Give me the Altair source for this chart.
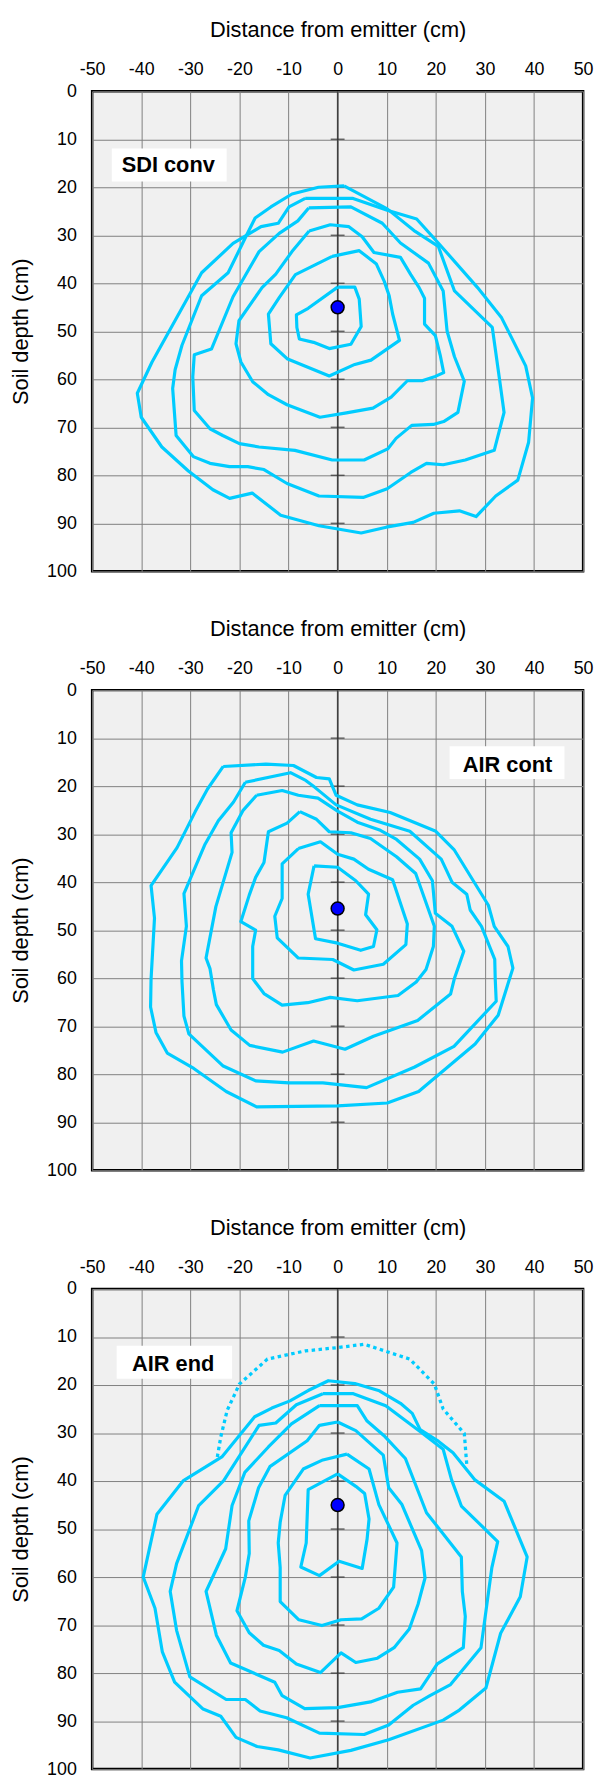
import altair as alt
import pandas as pd

# ---------------- data (x = distance from emitter, y = soil depth, cm) ----------------
X_TICKS = [-50, -40, -30, -20, -10, 0, 10, 20, 30, 40, 50]
Y_TICKS = [0, 10, 20, 30, 40, 50, 60, 70, 80, 90, 100]
AXIS_TICK_DEPTHS = [10, 20, 30, 40, 50, 60, 70, 80, 90]

PANEL_NAMES = ["SDI conv", "AIR cont", "AIR end"]
LABEL_X = [-34.5, 34.6, -33.5]
LABEL_Y = [15.4, 15.7, 15.6]
LABEL_BOX_X1 = [-46.0, 22.8, -45.0]
LABEL_BOX_X2 = [-22.6, 46.2, -21.5]
LABEL_BOX_Y1 = [11.9, 11.7, 11.8]
LABEL_BOX_Y2 = [18.8, 18.5, 18.7]
EMITTER_X = [0, 0, 0]
EMITTER_Y = [45.0, 45.5, 45.0]

SDI_1 = [(0, 40.8), (3.5, 40.8), (4.4, 43.3), (4.8, 49.0), (2.7, 52.7), (-1.7, 53.6), (-4.9, 52.3),
         (-7.8, 51.6), (-8.3, 49.2), (-8.4, 46.6), (-6.0, 45.2), (0, 40.8)]
SDI_2 = [(-1.1, 34.4), (4.4, 33.2), (7.9, 36.0), (9.5, 39.6), (10.5, 42.6), (11.2, 46.4), (12.6, 51.9),
         (6.8, 56.0), (3.5, 56.9), (-1.7, 59.3), (-10.3, 55.7), (-13.6, 52.6), (-14.1, 46.4),
         (-11.9, 43.0), (-8.6, 38.2), (-1.1, 34.4)]
SDI_3 = [(-5.8, 29.1), (-1.5, 27.8), (2.3, 28.2), (5.0, 30.3), (7.4, 33.6), (12.8, 34.6), (14.9, 38.2),
         (16.6, 40.9), (17.7, 43.1), (17.7, 48.5), (19.9, 50.9), (20.9, 55.0), (21.6, 58.6),
         (19.9, 59.4), (17.2, 60.3), (14.2, 60.3), (10.9, 63.7), (7.2, 66.0), (1.8, 67.0),
         (-3.6, 67.9), (-10.3, 65.3), (-14.1, 63.2), (-17.3, 60.5), (-19.7, 56.4), (-20.7, 52.6),
         (-20.1, 47.8), (-15.4, 40.9), (-12.6, 38.1), (-9.3, 33.4), (-5.8, 29.1)]
SDI_4 = [(-5.9, 24.3), (2.7, 24.1), (9.1, 27.5), (12.8, 31.6), (18.5, 35.8), (21.5, 41.6), (22.3, 50.0),
         (23.8, 55.3), (25.8, 60.4), (24.5, 66.9), (21.6, 68.8), (19.5, 69.4), (15.1, 69.6),
         (11.9, 72.3), (10.2, 74.5), (5.4, 76.8), (-1.1, 76.8), (-8.7, 74.8), (-16.0, 74.1),
         (-20.0, 73.4), (-23.4, 71.7), (-26.0, 70.3), (-29.2, 66.5), (-29.5, 59.5), (-29.2, 54.9),
         (-25.7, 53.7), (-21.3, 42.8), (-16.0, 33.4), (-11.9, 29.6), (-8.1, 27.0), (-5.9, 24.3)]
SDI_5 = [(1.3, 19.7), (10.1, 24.5), (15.8, 29.2), (20.5, 32.3), (23.8, 41.6), (31.5, 49.2), (33.0, 60.2),
         (33.9, 66.9), (31.9, 74.8), (26.0, 76.8), (21.5, 77.8), (18.1, 77.5), (14.9, 79.4),
         (10.1, 82.8), (5.2, 84.6), (-3.8, 84.3), (-10.3, 81.7), (-15.0, 78.8), (-18.3, 78.2),
         (-22.0, 78.2), (-26.0, 77.5), (-29.4, 76.1), (-32.9, 71.7), (-33.6, 61.9), (-33.1, 58.0),
         (-31.7, 52.9), (-27.7, 42.6), (-22.3, 37.8), (-18.7, 30.3), (-16.8, 26.4), (-13.6, 24.1),
         (-9.3, 21.4), (-3.9, 20.0), (1.3, 19.7)]
SDI_6 = [(-6.6, 22.3), (3.0, 22.3), (10.1, 24.8), (16.1, 26.6), (20.5, 31.6), (28.5, 40.9), (33.4, 47.2),
         (38.3, 57.2), (39.7, 63.9), (38.9, 73.1), (36.7, 81.0), (32.2, 84.3), (28.2, 88.6),
         (24.8, 87.4), (19.6, 87.9), (15.4, 89.8), (9.9, 90.8), (4.8, 92.0), (-3.8, 90.5),
         (-11.6, 88.3), (-17.4, 83.7), (-22.0, 84.8), (-25.4, 83.0), (-30.4, 79.1), (-35.8, 74.1),
         (-40.0, 67.9), (-40.8, 62.9), (-37.8, 56.4), (-27.7, 37.8), (-21.3, 31.7), (-15.6, 28.2),
         (-12.1, 27.5), (-9.9, 24.1), (-6.6, 22.3)]

CONT_1 = [(-4.8, 36.6), (0, 36.9), (3.7, 39.7), (6.3, 42.5), (5.7, 46.8), (8.0, 49.9), (7.3, 53.4),
          (4.7, 54.2), (0, 52.7), (-4.5, 51.8), (-6.0, 42.5), (-4.8, 36.6)]
CONT_2 = [(-8.0, 33.0), (-3.5, 31.6), (0, 34.2), (3.3, 35.2), (6.3, 37.3), (11.2, 39.5), (14.2, 48.7),
          (13.9, 53.0), (9.3, 57.1), (3.3, 58.3), (-1.0, 56.1), (-8.0, 55.8), (-12.3, 51.6),
          (-12.8, 47.1), (-11.3, 43.4), (-11.3, 36.2), (-8.0, 33.0)]
CONT_3 = [(-7.7, 25.3), (-4.3, 26.9), (-1.7, 29.5), (2.7, 29.7), (6.7, 30.9), (12.0, 34.7), (15.9, 38.2),
          (19.7, 49.2), (19.5, 53.4), (18.0, 58.2), (16.0, 60.8), (12.3, 63.6), (4.0, 64.7),
          (-1.5, 64.0), (-6.1, 65.1), (-11.3, 65.6), (-15.0, 63.2), (-17.3, 60.1), (-17.3, 53.4),
          (-16.7, 50.0), (-19.7, 48.2), (-18.0, 42.7), (-16.7, 39.0), (-15.0, 35.9), (-14.1, 29.5),
          (-10.3, 27.7), (-7.7, 25.3)]
CONT_4 = [(-16.5, 21.9), (-11.3, 20.9), (-8.0, 21.9), (-4.0, 22.5), (0, 25.2), (4.0, 27.5), (8.7, 29.2),
          (12.0, 31.1), (16.7, 35.2), (19.3, 39.7), (19.9, 46.5), (23.3, 49.2), (25.7, 54.4),
          (23.8, 60.0), (23.0, 63.3), (16.3, 68.8), (7.3, 72.1), (1.5, 74.8), (-4.9, 73.1),
          (-11.2, 75.4), (-17.9, 74.0), (-21.7, 70.8), (-24.7, 65.5), (-25.3, 62.4), (-26.0, 58.0),
          (-26.8, 55.8), (-24.8, 45.1), (-21.5, 33.8), (-21.7, 29.7), (-19.3, 25.1), (-16.5, 21.9)]
CONT_5 = [(-18.8, 19.2), (-9.6, 17.2), (-6.5, 18.8), (-4.7, 20.2), (-0.3, 23.9), (6.7, 26.9), (14.7, 29.4),
          (21.1, 35.2), (23.3, 40.0), (26.3, 42.5), (27.0, 45.8), (29.3, 49.2), (32.0, 56.1),
          (32.1, 60.2), (32.3, 64.8), (23.7, 74.2), (15.7, 78.5), (5.9, 82.8), (-3.0, 81.8),
          (-9.9, 81.8), (-16.7, 81.4), (-23.3, 78.3), (-30.3, 71.6), (-31.3, 67.9), (-31.7, 60.7),
          (-31.8, 56.4), (-30.8, 49.2), (-31.3, 42.4), (-27.0, 32.1), (-24.3, 27.2), (-21.2, 23.3),
          (-18.8, 19.2)]
CONT_6 = [(-23.3, 15.9), (-14.6, 15.4), (-9.0, 15.7), (-4.3, 18.2), (-1.7, 18.5), (-0.3, 21.9), (4.0, 23.9),
          (10.7, 25.5), (20.0, 29.4), (23.7, 33.2), (30.7, 44.8), (31.9, 49.2), (34.7, 53.4),
          (35.7, 57.9), (32.7, 67.7), (28.0, 73.7), (16.5, 83.6), (10.1, 86.0), (0, 86.6),
          (-16.5, 86.8), (-22.7, 83.6), (-29.3, 78.8), (-34.7, 75.6), (-37.0, 71.3), (-38.1, 66.0),
          (-38.0, 60.2), (-37.3, 47.5), (-38.0, 40.7), (-32.7, 32.8), (-29.0, 25.3), (-26.5, 20.6),
          (-23.3, 15.9)]

END_1 = [(0, 38.5), (3.7, 41.1), (5.5, 42.6), (6.4, 47.9), (6.0, 52.1), (5.0, 58.2), (0.3, 56.7),
         (-3.7, 59.7), (-7.5, 57.9), (-6.4, 52.9), (-6.0, 41.8), (0, 38.5)]
END_2 = [(1.9, 34.4), (6.4, 37.5), (8.4, 44.9), (12.1, 52.9), (11.4, 62.1), (8.4, 66.5), (4.9, 68.7),
         (0.7, 68.9), (-3.2, 70.1), (-7.9, 68.9), (-11.7, 65.1), (-11.7, 58.0), (-12.1, 52.9),
         (-11.7, 48.6), (-10.7, 43.0), (-7.0, 37.5), (-3.0, 35.6), (1.9, 34.4)]
END_3 = [(0, 27.7), (3.7, 29.5), (9.3, 34.6), (10.4, 41.4), (13.1, 44.9), (17.1, 54.5), (17.8, 60.2),
         (16.4, 65.6), (14.6, 70.8), (11.5, 74.7), (8.1, 76.9), (3.7, 77.8), (0.7, 75.8), (-3.5, 79.9),
         (-8.4, 78.1), (-11.9, 75.3), (-15.1, 74.2), (-18.0, 71.6), (-20.5, 67.0), (-18.8, 60.0),
         (-18.0, 55.1), (-18.1, 48.3), (-16.1, 41.4), (-13.8, 37.0), (-6.2, 31.6), (-3.7, 28.4), (0, 27.7)]
END_4 = [(-3.7, 24.3), (4.0, 24.3), (6.0, 27.5), (9.4, 30.5), (13.8, 35.3), (18.1, 46.6), (25.2, 55.8),
         (25.4, 63.0), (26.0, 68.2), (25.6, 74.7), (20.3, 78.1), (16.9, 83.3), (12.2, 84.0), (6.7, 86.0),
         (0, 87.2), (-6.7, 87.4), (-11.3, 84.7), (-12.8, 81.9), (-21.8, 77.9), (-24.7, 72.1),
         (-26.8, 63.0), (-22.8, 54.1), (-21.5, 45.1), (-18.9, 38.2), (-14.1, 32.9), (-9.4, 28.1),
         (-3.7, 24.3)]
END_5 = [(-3.0, 21.8), (3.2, 21.8), (9.8, 24.3), (17.2, 30.0), (21.5, 33.4), (23.2, 39.7), (25.2, 45.2),
         (32.6, 52.6), (31.4, 58.1), (29.2, 74.7), (23.0, 82.4), (18.8, 84.7), (15.4, 86.7),
         (10.4, 90.8), (5.4, 92.8), (-3.7, 92.5), (-10.4, 89.3), (-15.8, 87.9), (-18.8, 85.5),
         (-22.7, 85.5), (-30.1, 80.8), (-32.8, 71.1), (-34.1, 63.0), (-32.8, 57.2), (-28.3, 45.1),
         (-23.2, 39.9), (-16.0, 28.4), (-12.6, 27.9), (-8.4, 24.1), (-3.0, 21.8)]
END_6 = [(-6.1, 21.2), (-1.9, 19.1), (3.5, 19.7), (8.5, 21.2), (12.8, 23.8), (15.2, 25.9), (16.8, 29.3),
         (20.5, 31.7), (23.5, 34.1), (27.9, 39.7), (33.9, 44.2), (38.6, 55.8), (37.2, 64.1),
         (33.2, 71.7), (30.2, 83.1), (24.8, 87.7), (21.5, 89.8), (10.4, 93.9), (2.7, 96.1),
         (-5.6, 97.7), (-12.1, 96.0), (-16.4, 95.3), (-20.7, 93.4), (-23.8, 89.0), (-27.4, 87.5),
         (-33.2, 81.9), (-35.7, 75.6), (-37.2, 66.5), (-39.6, 60.0), (-36.8, 46.9), (-31.4, 39.9),
         (-23.5, 34.9), (-16.9, 26.6), (-13.4, 24.8), (-9.7, 23.3), (-6.1, 21.2)]
END_DOTTED = [(-24.5, 35.0), (-23.8, 30.8), (-22.5, 25.3), (-20.0, 19.8), (-14.3, 14.6), (-6.6, 12.9),
              (0, 12.2), (5.4, 11.5), (14.7, 14.6), (19.7, 19.8), (21.5, 25.0), (25.8, 30.1),
              (26.3, 36.6)]

PANEL_CONTOURS = [
    [SDI_1, SDI_2, SDI_3, SDI_4, SDI_5, SDI_6],
    [CONT_1, CONT_2, CONT_3, CONT_4, CONT_5, CONT_6],
    [END_1, END_2, END_3, END_4, END_5, END_6],
]
PANEL_DOTTED = [[], [], [END_DOTTED]]

# ---------------- styling ----------------
FONT = "Liberation Sans"
LINE_COLOR = "#00CCFF"
W, H = 496, 485

xscale = alt.Scale(domain=[-50, 50], nice=False, zero=False)
yscale = alt.Scale(domain=[0, 100], nice=False, zero=False, reverse=True)
xaxis = alt.Axis(orient="top", title="Distance from emitter (cm)", values=X_TICKS,
                 labelExpr="'' + datum.value",
                 grid=True, gridColor="#808080", gridWidth=1, domain=False, ticks=False,
                 labelFontSize=18, titleFontSize=22, labelFont=FONT, titleFont=FONT,
                 titleFontWeight="normal", labelColor="black", titleColor="black",
                 labelPadding=13, titlePadding=19, labelFlush=False)
yaxis = alt.Axis(title="Soil depth (cm)", values=Y_TICKS, labelExpr="'' + datum.value",
                 grid=True, gridColor="#808080", gridWidth=1, domain=False, ticks=False,
                 labelFontSize=18, titleFontSize=22, labelFont=FONT, titleFont=FONT,
                 titleFontWeight="normal", labelColor="black", titleColor="black",
                 labelPadding=16, titlePadding=14, labelFlush=False)

X = alt.X("x:Q", scale=xscale, axis=xaxis)
Y = alt.Y("y:Q", scale=yscale, axis=yaxis)


def contour_frame(contours, prefix):
    rows = []
    for ci, pts in enumerate(contours):
        for oi, (px, py) in enumerate(pts):
            rows.append({"cid": f"{prefix}{ci}", "ord": oi, "x": px, "y": py})
    return pd.DataFrame(rows, columns=["cid", "ord", "x", "y"])


def panel(i):
    base_axis = alt.Chart(pd.DataFrame({"x": [0]})).mark_rule(
        color="#404040", strokeWidth=1.5).encode(x=X)
    ticks = alt.Chart(pd.DataFrame({"x": [0] * len(AXIS_TICK_DEPTHS), "y": AXIS_TICK_DEPTHS})).mark_tick(
        orient="horizontal", size=14, thickness=1.5, color="#303030").encode(x=X, y=Y)
    lines = alt.Chart(contour_frame(PANEL_CONTOURS[i], "c")).mark_line(
        color=LINE_COLOR, strokeWidth=3.2, strokeJoin="round").encode(
        x=X, y=Y, detail="cid:N", order="ord:Q")
    layers = [base_axis, ticks, lines]
    if PANEL_DOTTED[i]:
        dotted = alt.Chart(contour_frame(PANEL_DOTTED[i], "d")).mark_line(
            color=LINE_COLOR, strokeWidth=3.3, strokeDash=[3.5, 3.5], strokeCap="butt").encode(
            x=X, y=Y, detail="cid:N", order="ord:Q")
        layers.append(dotted)
    dot = alt.Chart(pd.DataFrame({"x": [EMITTER_X[i]], "y": [EMITTER_Y[i]]})).mark_point(
        shape="circle", filled=True, size=170, fill="#0000FF", stroke="black",
        strokeWidth=1.5, opacity=1).encode(x=X, y=Y)
    box = alt.Chart(pd.DataFrame({"x": [LABEL_BOX_X1[i]], "x2": [LABEL_BOX_X2[i]],
                                  "y": [LABEL_BOX_Y1[i]], "y2": [LABEL_BOX_Y2[i]]})).mark_rect(
        fill="white").encode(x=X, x2="x2:Q", y=Y, y2="y2:Q")
    txt = alt.Chart(pd.DataFrame({"x": [LABEL_X[i]], "y": [LABEL_Y[i]], "label": [PANEL_NAMES[i]]})).mark_text(
        font=FONT, fontSize=22, fontWeight="bold", color="black", align="center",
        baseline="middle").encode(x=X, y=Y, text="label:N")
    layers += [dot, box, txt]
    return alt.layer(*layers).properties(
        width=W, height=H,
        view=alt.ViewBackground(fill="#f0f0f0", stroke="black", strokeWidth=2.5))


chart = alt.vconcat(panel(0), panel(1), panel(2), spacing=34).properties(
    padding={"left": 0, "top": 0, "right": 0, "bottom": 0}
).configure_view(
    fill="#f0f0f0", stroke="black", strokeWidth=2.5
).configure(background="white")

chart.save("out.html", embed_options={"renderer": "svg", "actions": False})
